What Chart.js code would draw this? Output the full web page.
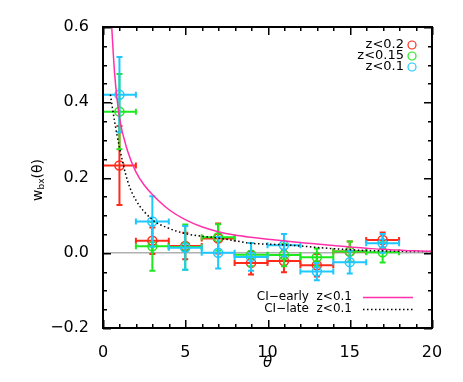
<!DOCTYPE html>
<html>
<head>
<meta charset="utf-8">
<script src="https://cdn.jsdelivr.net/npm/chart.js@4"></script>
<style>
  html, body { margin: 0; padding: 0; background: #fff; }
  #wrap { width: 463px; height: 382px; }
</style>
</head>
<body>
<div id="wrap"><canvas id="myChart" width="463" height="382"></canvas></div>
<script>
// bin centres and half-widths
let theta = [1, 3, 5, 7, 9, 11, 13, 15, 17];
let thetaErr = [1, 1, 1, 1, 1, 1, 1, 1, 1];

// z<0.2
let wRed = [0.232, 0.032, 0.018, 0.038, -0.027, -0.022, -0.033, 0.003, 0.034];
let wRedErr = [0.105, 0.035, 0.035, 0.040, 0.031, 0.030, 0.030, 0.027, 0.020];
// z<0.15
let wGreen = [0.375, 0.017, 0.015, 0.041, -0.005, -0.006, -0.012, 0.003, 0.001];
let wGreenErr = [0.100, 0.065, 0.060, 0.035, 0.031, 0.030, 0.023, 0.027, 0.027];
// z<0.1
let wCyan = [0.420, 0.083, 0.013, 0.000, -0.011, 0.020, -0.050, -0.025, 0.025];
let wCyanErr = [0.100, 0.067, 0.058, 0.042, 0.037, 0.030, 0.023, 0.030, 0.025];

// model curves
let earlyX = [0.53, 0.7, 1, 1.5, 2, 2.5, 3, 4, 5, 6, 7, 8, 9, 10, 11, 12, 13, 14, 15, 16, 17, 18, 19, 20];
let earlyY = [0.6, 0.48, 0.36, 0.27, 0.215, 0.18, 0.155, 0.115, 0.088, 0.069, 0.056, 0.047, 0.041, 0.036, 0.032, 0.027, 0.023, 0.019, 0.015, 0.012, 0.009, 0.007, 0.005, 0.004];
let lateX = [0.45, 0.7, 1, 1.5, 2, 3, 4, 5, 6, 7, 8, 9, 10, 11, 12, 13, 14, 15, 16, 17, 18, 19, 20];
let lateY = [0.42, 0.35, 0.28, 0.19, 0.14, 0.088, 0.065, 0.051, 0.044, 0.039, 0.032, 0.025, 0.023, 0.021, 0.018, 0.014, 0.011, 0.008, 0.006, 0.005, 0.004, 0.003, 0.003];

let xTicks = [0, 5, 10, 15, 20];
let yTicks = [-0.2, 0.0, 0.2, 0.4, 0.6];

const RED = '#ff2a1a', GREEN = '#1ee81e', CYAN = '#1ec8ff', PINK = '#ff30aa';
const FONT = '"DejaVu Sans", sans-serif';

function pts(xs, ys) { return xs.map((x, i) => ({x: x, y: ys[i]})); }

function errSet(label, ys, errs, color, order) {
      return {
            label: label, type: 'scatter', data: pts(theta, ys), errs: errs, order: order,
            borderColor: color, backgroundColor: 'rgba(0,0,0,0)',
            pointStyle: 'circle', pointRadius: 4.5, borderWidth: 1.5, showLine: false
      };
}

const errorBars = {
      id: 'errorBars',
      beforeDatasetDraw(chart, args) {
            const ds = chart.data.datasets[args.index];
            if (!ds.errs) return;
            const xs = chart.scales.x, ys = chart.scales.y, c = chart.ctx;
            c.save();
            c.setLineDash([]);
            c.strokeStyle = ds.borderColor;
            c.lineWidth = 2;
            ds.data.forEach((p, i) => {
                  const px = xs.getPixelForValue(p.x), py = ys.getPixelForValue(p.y);
                  const x0 = xs.getPixelForValue(p.x - thetaErr[i]), x1 = xs.getPixelForValue(p.x + thetaErr[i]);
                  const y0 = ys.getPixelForValue(p.y - ds.errs[i]), y1 = ys.getPixelForValue(p.y + ds.errs[i]);
                  c.beginPath();
                  c.moveTo(x0, py); c.lineTo(x1, py);
                  c.moveTo(x0, py - 3); c.lineTo(x0, py + 3);
                  c.moveTo(x1, py - 3); c.lineTo(x1, py + 3);
                  c.moveTo(px, y0); c.lineTo(px, y1);
                  c.moveTo(px - 3, y0); c.lineTo(px + 3, y0);
                  c.moveTo(px - 3, y1); c.lineTo(px + 3, y1);
                  c.stroke();
            });
            c.restore();
      }
};

const boxAndLabels = {
      id: 'boxAndLabels',
      afterDatasetsDraw(chart) {
            const a = chart.chartArea, c = chart.ctx, xs = chart.scales.x, ys = chart.scales.y;
            const L = Math.round(a.left), R = Math.round(a.right), T = Math.round(a.top), B = Math.round(a.bottom);
            c.save();
            c.fillStyle = '#000';
            // box
            c.fillRect(L - 1, T - 1, R - L + 2, 2);
            c.fillRect(L - 1, B - 1, R - L + 2, 2);
            c.fillRect(L - 1, T - 1, 2, B - T + 2);
            c.fillRect(R - 1, T - 1, 2, B - T + 2);
            // inward ticks on all four sides
            for (let v = 0; v <= 20; v += 1) {
                  const len = v % 5 === 0 ? 8 : 4;
                  const px = Math.round(xs.getPixelForValue(v));
                  c.fillRect(px, B - len, 1.5, len);
                  c.fillRect(px, T, 1.5, len);
            }
            for (let k = -4; k <= 12; k++) {
                  const len = k % 4 === 0 ? 8 : 4;
                  const py = Math.round(ys.getPixelForValue(k * 0.05));
                  c.fillRect(L, py, len, 1.5);
                  c.fillRect(R - len, py, len, 1.5);
            }

            // axis titles
            c.font = 'italic 15px ' + FONT;
            c.textAlign = 'center';
            c.textBaseline = 'middle';
            c.fillText('θ', (a.left + a.right) / 2, 363);

            c.translate(38, 180);
            c.rotate(-Math.PI / 2);
            c.textAlign = 'left';
            c.font = '14px ' + FONT;
            const w1 = c.measureText('w').width;
            c.font = '9px ' + FONT;
            const w2 = c.measureText('bx').width;
            c.font = '14px ' + FONT;
            const w3 = c.measureText('(θ)').width;
            let x0 = -(w1 + w2 + w3) / 2;
            c.fillText('w', x0, 0);
            c.font = '9px ' + FONT;
            c.fillText('bx', x0 + w1, 4);
            c.font = '14px ' + FONT;
            c.fillText('(θ)', x0 + w1 + w2, 0);
            c.setTransform(1, 0, 0, 1, 0, 0);

            // legends
            c.font = '13px ' + FONT;
            c.textAlign = 'right';
            const zl = [['z<0.2', RED, 45], ['z<0.15', GREEN, 56], ['z<0.1', CYAN, 67]];
            zl.forEach(r => {
                  c.fillStyle = '#000';
                  c.fillText(r[0], 404, r[2]);
                  c.strokeStyle = r[1];
                  c.lineWidth = 1.2;
                  c.beginPath();
                  c.arc(412, r[2], 4, 0, Math.PI * 2);
                  c.stroke();
            });
            c.font = '12px ' + FONT;
            c.fillStyle = '#000';
            c.fillText('CI\u2212early  z<0.1', 352, 297);
            c.fillText('CI\u2212late  z<0.1', 352, 309);
            c.strokeStyle = PINK;
            c.lineWidth = 1.5;
            c.beginPath(); c.moveTo(363, 297.5); c.lineTo(413, 297.5); c.stroke();
            c.strokeStyle = '#000';
            c.setLineDash([1.5, 2.5]);
            c.beginPath(); c.moveTo(363, 309.5); c.lineTo(413, 309.5); c.stroke();
            c.restore();
      }
};

let ctx = document.getElementById('myChart').getContext('2d');
let myChart = new Chart(ctx, {
      type: 'scatter',
      data: {
            datasets: [
                  {label: 'zero', type: 'line', order: 9, data: pts([0, 20], [0, 0]), borderColor: '#b0b0b0', borderWidth: 1.5, pointRadius: 0},
                  errSet('z<0.2', wRed, wRedErr, RED, 5),
                  errSet('z<0.15', wGreen, wGreenErr, GREEN, 4),
                  errSet('z<0.1', wCyan, wCyanErr, CYAN, 3),
                  {label: 'CI-early z<0.1', type: 'line', order: 1, data: pts(earlyX, earlyY), borderColor: PINK, borderWidth: 1.5, pointRadius: 0, cubicInterpolationMode: 'monotone'},
                  {label: 'CI-late z<0.1', type: 'line', order: 2, data: pts(lateX, lateY), borderColor: '#000', borderWidth: 1.5, borderDash: [1.5, 2.5], pointRadius: 0, cubicInterpolationMode: 'monotone'}
            ]
      },
      options: {
            responsive: false,
            animation: false,
            layout: {padding: {top: 27, right: 31, left: 0, bottom: 0}},
            plugins: {legend: {display: false}, tooltip: {enabled: false}},
            scales: {
                  x: {
                        type: 'linear', min: 0, max: 20,
                        afterFit: s => { s.height = 54; },
                        afterBuildTicks: s => { s.ticks = xTicks.map(v => ({value: v})); },
                        grid: {display: false},
                        border: {display: false},
                        ticks: {color: '#000', font: {family: FONT, size: 16}, padding: 7, maxRotation: 0}
                  },
                  y: {
                        type: 'linear', min: -0.2, max: 0.6,
                        afterFit: s => { s.width = 103; },
                        afterBuildTicks: s => { s.ticks = yTicks.map(v => ({value: v})); },
                        grid: {display: false},
                        border: {display: false},
                        ticks: {color: '#000', font: {family: FONT, size: 16}, padding: 6,
                              callback: v => v.toFixed(1).replace('-', '\u2212')}
                  }
            }
      },
      plugins: [errorBars, boxAndLabels]
});
</script>
</body>
</html>
